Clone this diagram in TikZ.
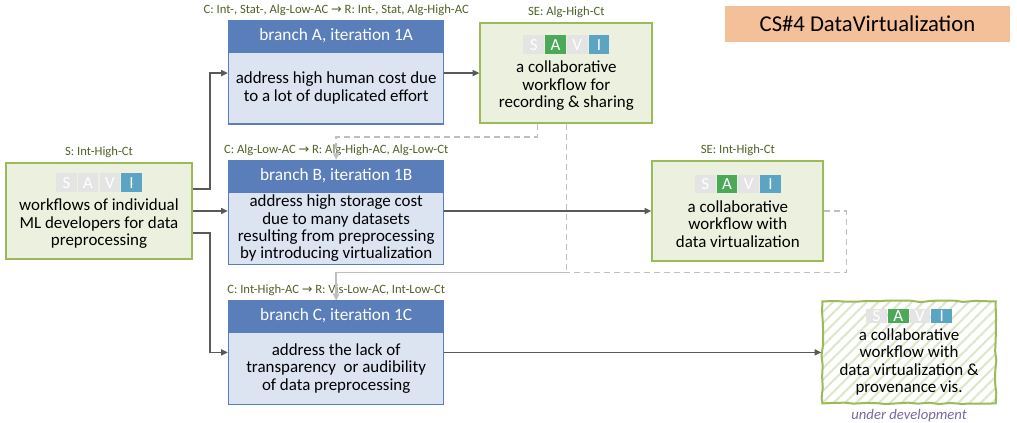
\documentclass[tikz,border=0pt]{standalone}
\usepackage{fontspec}
\setmainfont{Carlito}
\newfontfamily\symfont{DejaVu Sans}
\usepackage{xcolor}
\usepackage{tikz}
\usetikzlibrary{shapes,arrows.meta,positioning,calc,patterns.meta,decorations.pathmorphing}

\definecolor{wfborder}{HTML}{9BBB59}
\definecolor{wffill}{HTML}{EBF1DE}
\definecolor{headblue}{HTML}{5A7EB9}
\definecolor{bodyblue}{HTML}{DCE4F2}
\definecolor{labgreen}{HTML}{4F6228}
\definecolor{linegray}{HTML}{595959}
\definecolor{dashgray}{HTML}{BFBFBF}
\definecolor{titlefill}{HTML}{F4C09A}
\definecolor{devpurple}{HTML}{7A689E}
\definecolor{cellgray}{HTML}{E4E4E4}
\definecolor{savigreen}{HTML}{4DA95A}
\definecolor{saviblue}{HTML}{5BA4C4}
\definecolor{hatchgreen}{HTML}{DDE8C8}

% one S-A-V-I cell: height, colour, letter
\newcommand{\savicell}[3]{{\setlength{\fboxsep}{0pt}\colorbox{#2}{\makebox[15.5pt]{\rule[\dimexpr(8pt-#1)/2\relax]{0pt}{#1}\textcolor{white}{#3}}}}}
\newcommand{\savi}[2][14pt]{\savicell{#1}{cellgray}{S}\hspace{0.8pt}\savicell{#1}{#2}{A}\hspace{0.8pt}\savicell{#1}{cellgray}{V}\hspace{0.8pt}\savicell{#1}{saviblue}{I}}
\newcommand{\goesto}{{\symfont →}}

\begin{document}
\begin{tikzpicture}[
    node distance=26.25pt,
    wf/.style={rectangle, draw=wfborder, fill=wffill, line width=1.5pt, align=center, font=\fontsize{12.7}{13.1}\selectfont, inner sep=2pt},
    head/.style={rectangle, draw=headblue, fill=headblue, line width=1pt, text=white, minimum width=161.25pt, minimum height=22.5pt, font=\fontsize{13}{14}\selectfont, inner sep=1pt},
    body/.style={rectangle, draw=headblue, fill=bodyblue, line width=1.2pt, minimum width=161.25pt, align=center, font=\fontsize{12.7}{13.1}\selectfont, inner sep=2pt},
    lab/.style={font=\fontsize{9.5}{10}\selectfont, text=labgreen},
    dev/.style={font=\itshape\fontsize{11}{12}\selectfont, text=devpurple},
    flow/.style={-{Triangle[length=5pt,width=4.5pt]}, line width=1.1pt, draw=linegray},
    feedback/.style={-{Triangle[length=5pt,width=4.5pt]}, dash pattern=on 4.5pt off 3pt, line width=1.1pt, draw=dashgray}
]
    \useasboundingbox (0,0) rectangle (762.75pt,-316.5pt);

    % branches
    \node[head, anchor=north west, label={[lab]above:{C: Alg-Low-AC \goesto{} R: Alg-High-AC, Alg-Low-Ct}}] (headB) at (171pt,-120pt) {branch B, iteration 1B};
    \node[body, minimum height=52.5pt, below=0pt of headB] (bodyB) {address high storage cost\\due to many datasets\\resulting from preprocessing\\by introducing virtualization};
    \node[body, minimum height=54pt, above=of headB] (bodyA) {address high human cost due\\to a lot of duplicated effort};
    \node[head, above=0pt of bodyA, label={[lab]above:{C: Int-, Stat-, Alg-Low-AC \goesto{} R: Int-, Stat, Alg-High-AC}}] (headA) {branch A, iteration 1A};
    \node[head, below=of bodyB, label={[lab]above:{C: Int-High-AC \goesto{} R: Vis-Low-AC, Int-Low-Ct}}] (headC) {branch C, iteration 1C};
    \node[body, minimum height=54pt, below=0pt of headC] (bodyC) {address the lack of\\transparency \ or audibility\\of data preprocessing};

    % start and results
    \node[wf, minimum width=139.5pt, minimum height=72pt, below left=1.5pt and 26.25pt of headB.north west, label={[lab]above:{S: Int-High-Ct}}] (src) {\savi{cellgray}\\[4pt]workflows of individual\\ML developers for data\\preprocessing};
    \node[wf, minimum width=129pt, minimum height=75pt, below right=1.5pt and 26.25pt of headA.north east, label={[lab]above:{SE: Alg-High-Ct}}] (se1) {\savi{savigreen}\\[4pt]a collaborative\\workflow for\\recording \& sharing};
    \node[wf, minimum width=128.25pt, minimum height=75pt, below right=0pt and 155.25pt of headB.north east, label={[lab]above:{SE: Int-High-Ct}}] (se2) {\savi{savigreen}\\[4pt]a collaborative\\workflow with\\data virtualization};
    \node[wf, minimum width=130pt, minimum height=76.5pt, pattern={Lines[angle=45,distance=6pt,line width=1.6pt]}, pattern color=hatchgreen, decorate, decoration={random steps, segment length=8pt, amplitude=0.7pt}, below right=0pt and 282.75pt of headC.north east, label={[dev]below:under development}] (se3) {\savi[10.5pt]{savigreen}\\[1pt]a collaborative\\workflow with\\data virtualization \&\\provenance vis.};

    \node[fill=titlefill, minimum width=213.75pt, minimum height=27pt, font=\fontsize{17}{19}\selectfont] (title) at (650.6pt,-18pt) {CS\#4 DataVirtualization};

    % connectors
    \draw[flow] ([yshift=16.5pt]src.east) -- ++(12.75pt,0) |- (bodyA.west |- se1.west);
    \draw[flow] (src.east) -- (bodyB.west |- src.east);
    \draw[flow] ([yshift=-16.5pt]src.east) -- ++(12.75pt,0) |- (bodyC.west |- se3.west);
    \draw[flow] (bodyA.east |- se1.west) -- (se1.west);
    \draw[flow] (bodyB.east |- se2.west) -- (se2.west);
    \draw[flow] (bodyC.east |- se3.west) -- (se3.west);

    % dashed feedback
    \coordinate (busC) at ($(headC.north)+(0,21pt)$);
    \draw[feedback] ([xshift=-21.75pt]se1.south) -- ++(0,-9.75pt) -| (headB.north);
    \draw[feedback] (se1.south) |- (busC) -- (headC.north);
    \draw[feedback] (se2.east) -- ++(16.5pt,0) |- (busC) -- (headC.north);
\end{tikzpicture}
\end{document}
